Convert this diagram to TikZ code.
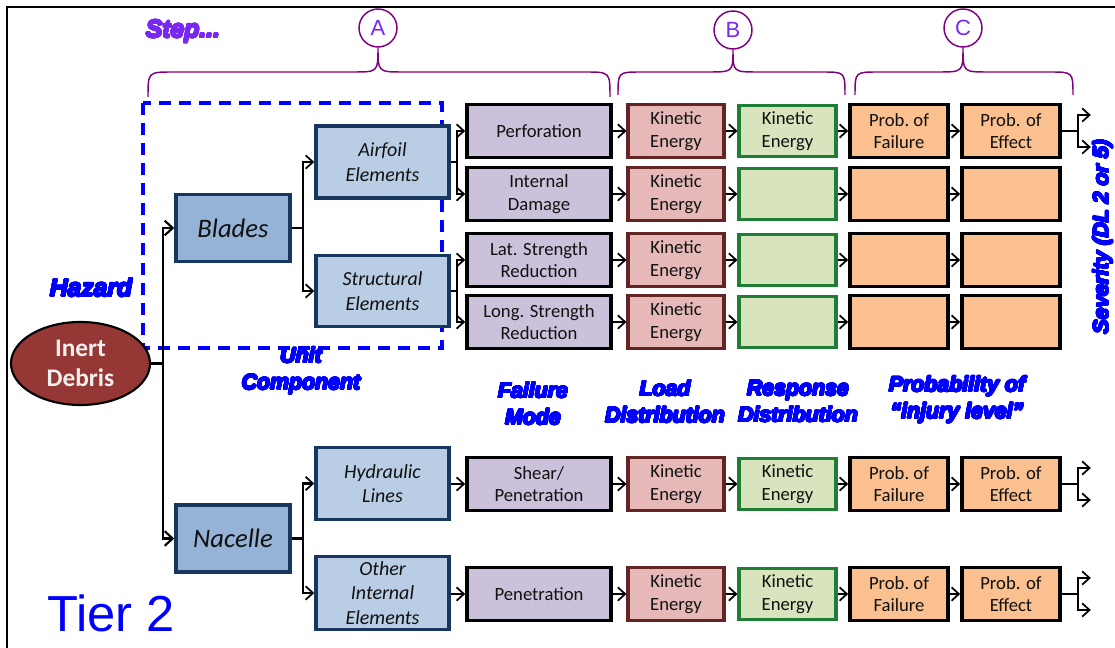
\documentclass[tikz,border=0pt]{standalone}
\usepackage{fontspec}
\usepackage{contour}
\setmainfont{Carlito}
\newfontfamily\heavyfont{Liberation Sans}
\newfontfamily\arialfont{Liberation Sans}
\newcommand\hv{\heavyfont\bfseries\itshape}
\contourlength{0.6pt}
\contournumber{24}
\newcommand\thick[1]{\contour{.}{#1}}
\usetikzlibrary{arrows.meta,calc,shapes.geometric}

\definecolor{modefill}{HTML}{CCC1DA}
\definecolor{loadfill}{HTML}{E6B9B8}
\definecolor{loaddraw}{HTML}{632523}
\definecolor{respfill}{HTML}{D7E4BD}
\definecolor{respdraw}{HTML}{1E7E34}
\definecolor{probfill}{HTML}{FAC090}
\definecolor{compfill}{HTML}{95B3D7}
\definecolor{unitfill}{HTML}{B9CDE5}
\definecolor{navy}{HTML}{17375E}
\definecolor{debris}{HTML}{953735}
\definecolor{stepviolet}{RGB}{120,40,240}
\definecolor{bracepurple}{RGB}{128,0,128}
\definecolor{labelblue}{RGB}{0,0,255}
\definecolor{boxtext}{HTML}{111111}

\tikzset{
  px/.style 2 args={minimum width=#1*0.75pt, minimum height=#2*0.75pt},
  basebox/.style={draw, inner sep=0pt, align=center, text=boxtext,
    font=\fontsize{14}{17}\selectfont},
  modebox/.style={basebox, fill=modefill, draw=black, line width=2.7pt, px={144}{53}},
  loadbox/.style={basebox, fill=loadfill, draw=loaddraw, line width=2.3pt, px={96}{53}},
  respbox/.style={basebox, fill=respfill, draw=respdraw, line width=2.3pt, px={97}{51}},
  probbox/.style={basebox, fill=probfill, draw=black, line width=2.7pt, px={98}{53}},
  compbox/.style={basebox, fill=compfill, draw=navy, line width=2.6pt, px={114}{67},
    font=\itshape\fontsize{20}{24}\selectfont},
  unitbox/.style={basebox, fill=unitfill, draw=navy, line width=2.6pt, px={133}{72},
    font=\itshape\fontsize{15}{18.5}\selectfont},
  conn/.style={line width=1.6pt, draw=black},
  trunk/.style={line width=2.2pt, draw=black},
  arr/.style={conn, -{Straight Barb[length=5.5pt,width=10pt,line width=1.3pt]}},
  tarr/.style={trunk, -{Straight Barb[length=6pt,width=11pt,line width=1.6pt]}},
  lbl/.style={text=labelblue, align=center, inner sep=0pt,
    font=\hv\fontsize{16}{20}\selectfont},
  brace/.style={draw=bracepurple, line width=1.1pt},
  stepcircle/.style={circle, draw=bracepurple, line width=1.1pt, inner sep=0pt,
    minimum size=38*0.75pt, text=stepviolet, font=\arialfont\fontsize{16.5}{16.5}\selectfont},
}

\begin{document}
\begin{tikzpicture}[x=0.75pt,y=-0.75pt]
\useasboundingbox (0,0) rectangle (1115,648);
\fill[white] (0,0) rectangle (1115,648);
% outer frame
\draw[line width=1.1pt] (7,660) -- (7,7) -- (1125,7);

% step markers and braces
\node[stepcircle] (ca) at (378,28) {A};
\node[stepcircle] (cb) at (733,30) {B};
\node[stepcircle] (cc) at (963,28) {C};
\draw[brace] (148,97) .. controls (148,72) .. (173,72) -- (353,72)
  .. controls (378,72) .. (ca.south) .. controls (378,72) .. (403,72)
  -- (585,72) .. controls (610,72) .. (610,97);
\draw[brace] (618,95) .. controls (618,72) .. (641,72) -- (708,72)
  .. controls (733,72) .. (cb.south) .. controls (733,72) .. (758,72)
  -- (822,72) .. controls (845,72) .. (845,95);
\draw[brace] (855,95) .. controls (855,72) .. (878,72) -- (938,72)
  .. controls (963,72) .. (cc.south) .. controls (963,72) .. (988,72)
  -- (1050,72) .. controls (1073,72) .. (1073,95);
\node[text=stepviolet, inner sep=0pt, font=\hv\fontsize{18.5}{20}\selectfont] (step) at (183,32) {\thick{Step...}};

% unit/component grouping
\draw[labelblue, line width=2.3pt, dash pattern=on 9pt off 6pt] (143,103) rectangle (442,348);

% hazard
\node[ellipse, fill=debris, draw=black, line width=1.6pt, inner sep=0pt, px={139}{83},
  align=center, text=white!94!black, font=\bfseries\fontsize{19}{22.5}\selectfont]
  (deb) at (80.5,363.5) {Inert\\Debris};

% components
\node[compbox] (blades) at (233,228) {Blades};
\node[compbox] (nacelle) at (233,538.5) {Nacelle};

% unit elements
\node[unitbox] (airfoil) at (382.5,162) {Airfoil\\Elements};
\node[unitbox, px={133}{71}] (struct) at (382.5,291) {Structural\\Elements};
\node[unitbox] (hyd) at (382.5,483.5) {Hydraulic\\Lines};
\node[unitbox, px={133}{73}] (other) at (382.5,593) {Other\\Internal\\Elements};

% failure modes
\node[modebox] (fm1) at (539,131) {Perforation};
\node[modebox] (fm2) at (539,194) {Internal\\Damage};
\node[modebox] (fm3) at (539,260) {Lat. Strength\\Reduction};
\node[modebox] (fm4) at (539,322) {Long. Strength\\Reduction};
\node[modebox] (fm5) at (539,484) {Shear/\\Penetration};
\node[modebox] (fm6) at (539,594) {Penetration};

% load, response and probability columns
\foreach \r/\y in {1/131,2/194,3/260,4/322,5/484,6/594}{
  \node[loadbox] (ld\r) at (676,\y) {Kinetic\\Energy};
}
\foreach \r/\y in {1/131,5/484,6/594}{
  \node[respbox] (rs\r) at (787.5,\y) {Kinetic\\Energy};
  \node[probbox] (pf\r) at (899,\y) {Prob.\ of\\Failure};
  \node[probbox] (pe\r) at (1011,\y) {Prob. of\\Effect};
}
\foreach \r/\y in {2/194,3/260,4/322}{
  \node[respbox] (rs\r) at (787.5,\y) {};
  \node[probbox] (pf\r) at (899,\y) {};
  \node[probbox] (pe\r) at (1011,\y) {};
}

% tree connectors
\coordinate (j0) at (163,363.5);
\draw[trunk] (deb.east) -- (j0);
\draw[tarr] (j0) |- (blades.west);
\draw[tarr] (j0) |- (nacelle.west);

\coordinate (j1) at (303,228);
\draw[conn] (blades.east) -- (j1);
\draw[arr] (j1) |- (airfoil.west);
\draw[arr] (j1) |- (struct.west);

\coordinate (j2) at (303,538.5);
\draw[conn] (nacelle.east) -- (j2);
\draw[arr] (j2) |- (hyd.west);
\draw[arr] (j2) |- (other.west);

\coordinate (j3) at (457,162);
\draw[conn] (airfoil.east) -- (j3);
\draw[arr] (j3) |- (fm1.west);
\draw[arr] (j3) |- (fm2.west);

\coordinate (j4) at (457,291);
\draw[conn] (struct.east) -- (j4);
\draw[arr] (j4) |- (fm3.west);
\draw[arr] (j4) |- (fm4.west);

\draw[arr] (hyd.east |- fm5.west) -- (fm5.west);
\draw[arr] (other.east |- fm6.west) -- (fm6.west);

\foreach \r in {1,...,6}{
  \draw[arr] (fm\r) -- (ld\r);
  \draw[arr] (ld\r) -- (rs\r);
  \draw[arr] (rs\r) -- (pf\r);
  \draw[arr] (pf\r) -- (pe\r);
}

% severity forks
\foreach \r in {1,5,6}{
  \coordinate (f\r) at ($(pe\r.east)+(16,0)$);
  \coordinate (fu\r) at ($(f\r)+(13,-16)$);
  \coordinate (fd\r) at ($(f\r)+(13,16)$);
  \draw[conn] (pe\r.east) -- (f\r);
  \draw[arr] (f\r) |- (fu\r);
  \draw[arr] (f\r) |- (fd\r);
}

% column labels
\node[lbl, font=\hv\fontsize{18.5}{20}\selectfont] (haz) at (91,288) {\thick{Hazard}};
\node[lbl] (unit) at (301,371) {\thick{Unit}\\\thick{Component}};
\node[lbl] (fmode) at (533,404) {\thick{Failure}\\\thick{Mode}};
\node[lbl] (load) at (665,402) {\thick{Load}\\\thick{Distribution}};
\node[lbl] (resp) at (798,402) {\thick{Response}\\\thick{Distribution}};
\node[lbl] (prob) at (957,400) {\thick{Probability of}\\\thick{“injury level”}};
\node[lbl, rotate=90] (sev) at (1103,237) {\thick{Severity (DL 2 or 5)}};

\node[text=labelblue, anchor=base, inner sep=0pt,
  font=\arialfont\fontsize{38}{40}\selectfont] (tier) at (111,632) {Tier 2};
\end{tikzpicture}
\end{document}
